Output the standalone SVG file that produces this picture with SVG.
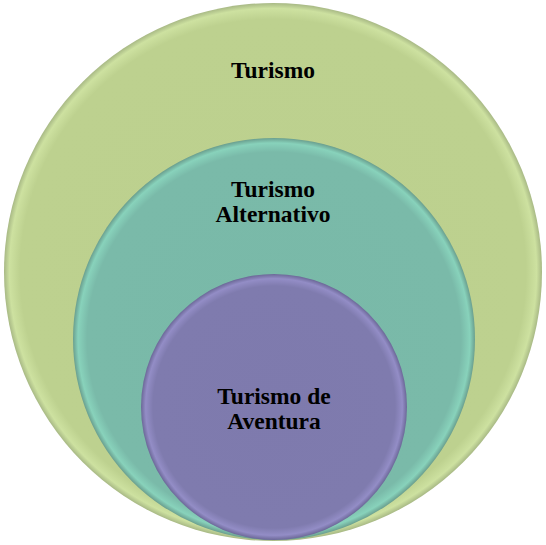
<svg xmlns="http://www.w3.org/2000/svg" width="546" height="545" viewBox="0 0 546 545">
<style>
.lbl{font-family:"Liberation Serif","Times New Roman",serif;font-weight:bold;font-size:23.5px;fill:#000;text-anchor:middle}
</style>
<defs>
<radialGradient id="gOuter" cx="0.5" cy="0.5" r="0.5">
<stop offset="0" stop-color="#bcd08e"/>
<stop offset="0.94" stop-color="#bdd18f"/>
<stop offset="0.98" stop-color="#cde1a0"/>
<stop offset="1" stop-color="#a8b985"/>
</radialGradient>
<radialGradient id="gMid" cx="0.5" cy="0.5" r="0.5">
<stop offset="0" stop-color="#79b9a8"/>
<stop offset="0.93" stop-color="#7abaa9"/>
<stop offset="0.975" stop-color="#88d2bb"/>
<stop offset="1" stop-color="#6a9f8f"/>
</radialGradient>
<radialGradient id="gIn" cx="0.5" cy="0.5" r="0.5">
<stop offset="0" stop-color="#7e7aad"/>
<stop offset="0.91" stop-color="#7f7bae"/>
<stop offset="0.965" stop-color="#938dc6"/>
<stop offset="1" stop-color="#6c6898"/>
</radialGradient>
</defs>
<rect width="546" height="545" fill="#ffffff"/>
<g id="turismo">
<circle cx="273" cy="272" r="269" fill="url(#gOuter)"/>
<text class="lbl" x="273" y="78">Turismo</text>
</g>
<g id="turismo-alternativo">
<circle cx="274" cy="339" r="201" fill="url(#gMid)"/>
<text class="lbl" x="273" y="197">Turismo</text>
<text class="lbl" x="273" y="222">Alternativo</text>
</g>
<g id="turismo-de-aventura">
<circle cx="274" cy="407" r="133" fill="url(#gIn)"/>
<text class="lbl" x="274" y="404">Turismo de</text>
<text class="lbl" x="274" y="429">Aventura</text>
</g>
<g id="connectors"/>
</svg>
